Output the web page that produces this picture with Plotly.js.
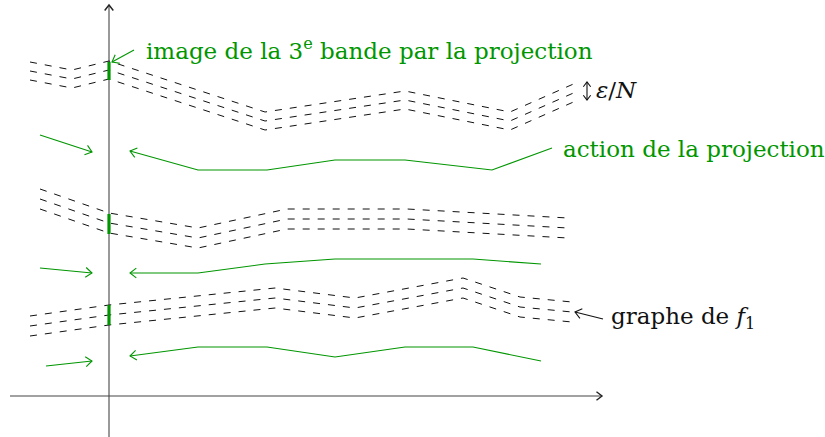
<!DOCTYPE html>
<html><head><meta charset="utf-8">
<script src="https://cdn.plot.ly/plotly-3.0.1.min.js"></script>
<style>html,body{margin:0;padding:0;background:#fff}#chart{width:825px;height:437px}</style>
</head><body><div id="chart"></div>
<script>
// ---- data (pixel-space diagram coordinates) ----
const axisVX = [109, 109], axisVY = [437, 5];
const axisHX = [10, 602], axisHY = [396, 396];

// band 3 (top)
const band3X = [30, 72, 109, 265, 405, 510, 578];
const band3Y1 = [62, 70, 61, 112, 91, 112, 82];
const band3Y2 = [71, 79, 70, 121, 100, 121, 91];
const band3Y3 = [80, 88, 79, 130, 109, 130, 100];
// band 2 (middle)
const band2X = [40, 109, 198, 287, 407, 568];
const band2Y1 = [189, 213, 228, 209, 209, 218];
const band2Y2 = [199, 223, 238, 219, 219, 228];
const band2Y3 = [209, 233, 248, 229, 229, 238];
// band 1 (bottom, graphe de f1)
const band1X = [30, 109, 275, 355, 463, 520, 572];
const band1Y1 = [316, 305, 288, 298, 278, 297, 302];
const band1Y2 = [326, 315, 298, 308, 288, 307, 312];
const band1Y3 = [336, 325, 308, 318, 298, 317, 322];

// green projection images on the vertical axis
const projX = [109, 109, 109];
const projYTop = [62, 214, 305];
const projYBot = [80, 234, 325];

// green "action de la projection" polylines (arrow at last point)
const act3X = [552, 492, 405, 335, 267, 198, 130];
const act3Y = [148, 170, 160, 160, 170, 170, 151];
const act2X = [541, 473, 335, 265, 198, 130];
const act2Y = [264, 259, 259, 264, 273, 273];
const act1X = [541, 473, 405, 335, 267, 198, 130];
const act1Y = [361, 347, 347, 357, 347, 347, 356];
// small left arrows
const smallX = [[40, 92], [40, 92], [46, 92]];
const smallY = [[135, 152], [268, 273], [366, 361]];

// label arrows
const labImgX = [134, 112], labImgY = [50, 62];
const labGrX = [603, 575], labGrY = [319, 312];
const epsX = [587, 587], epsY = [82, 100];

// labels
const labels = [
  {text: 'image de la 3<sup>e</sup> bande par la projection', x: 144, y: 49, color: 'green'},
  {text: 'action de la projection', x: 561, y: 149, color: 'green'},
  {text: 'graphe de <i>f</i><sub>1</sub>', x: 609, y: 318, color: 'black'},
  {text: '<i>ε</i>/<i>N</i>', x: 594, y: 90, color: 'black'}
];

// ---- drawing ----
const GREEN = 'rgb(0,150,0)';
const FONT = 'DejaVu Serif';
const traces = [];
function line(x, y, color, width, dash) {
  traces.push({type: 'scatter', mode: 'lines', x: x, y: y, hoverinfo: 'skip',
    line: {color: color, width: width, dash: dash || 'solid'}, showlegend: false});
}
function head(x, y, color, width, size) {
  const n = x.length;
  const tx = x[n - 1], ty = y[n - 1];
  const dx = tx - x[n - 2], dy = ty - y[n - 2];
  const L = Math.hypot(dx, dy), ux = dx / L, uy = dy / L;
  const a = 38 * Math.PI / 180, s = size || 7;
  const p = (ang) => [tx - s * (ux * Math.cos(ang) - uy * Math.sin(ang)), ty - s * (ux * Math.sin(ang) + uy * Math.cos(ang))];
  const p1 = p(a), p2 = p(-a);
  line([p1[0], tx, p2[0]], [p1[1], ty, p2[1]], color, width);
}

line(axisVX, axisVY, '#555', 1.2); head(axisVX, axisVY, '#222', 1.4, 7);
line(axisHX, axisHY, '#444', 1.2); head(axisHX, axisHY, '#222', 1.4, 7);

const DASH = '7px,8px';
[[band3X, band3Y1], [band3X, band3Y2], [band3X, band3Y3],
 [band2X, band2Y1], [band2X, band2Y2], [band2X, band2Y3],
 [band1X, band1Y1], [band1X, band1Y2], [band1X, band1Y3]].forEach(b => line(b[0], b[1], '#111', 1, DASH));

for (let i = 0; i < projX.length; i++) line([projX[i], projX[i]], [projYTop[i], projYBot[i]], GREEN, 3.2);

[[act3X, act3Y], [act2X, act2Y], [act1X, act1Y]].forEach(a => { line(a[0], a[1], GREEN, 1.1); head(a[0], a[1], GREEN, 1.1, 8); });
for (let i = 0; i < smallX.length; i++) { line(smallX[i], smallY[i], GREEN, 1.1); head(smallX[i], smallY[i], GREEN, 1.1, 8); }

line(labImgX, labImgY, GREEN, 1.1); head(labImgX, labImgY, GREEN, 1.1, 8);
line(labGrX, labGrY, '#111', 1.1); head(labGrX, labGrY, '#111', 1.1, 8);
line(epsX, epsY, '#111', 1.1); head(epsX, epsY, '#111', 1.1, 6);
head([epsX[1], epsX[0]], [epsY[1], epsY[0]], '#111', 1.1, 6);

const annotations = labels.map(l => ({
  text: l.text, x: l.x, y: l.y, xref: 'x', yref: 'y', xanchor: 'left', yanchor: 'middle',
  showarrow: false, font: {family: FONT, size: 23, color: l.color === 'green' ? GREEN : '#111'}
}));

Plotly.newPlot('chart', traces, {
  width: 825, height: 437, margin: {l: 0, r: 0, t: 0, b: 0},
  font: {family: FONT, size: 23, color: '#111'},
  paper_bgcolor: '#fff', plot_bgcolor: '#fff',
  xaxis: {range: [0, 825], visible: false, fixedrange: true},
  yaxis: {range: [437, 0], visible: false, fixedrange: true},
  annotations: annotations, showlegend: false
}, {staticPlot: true});
</script></body></html>
